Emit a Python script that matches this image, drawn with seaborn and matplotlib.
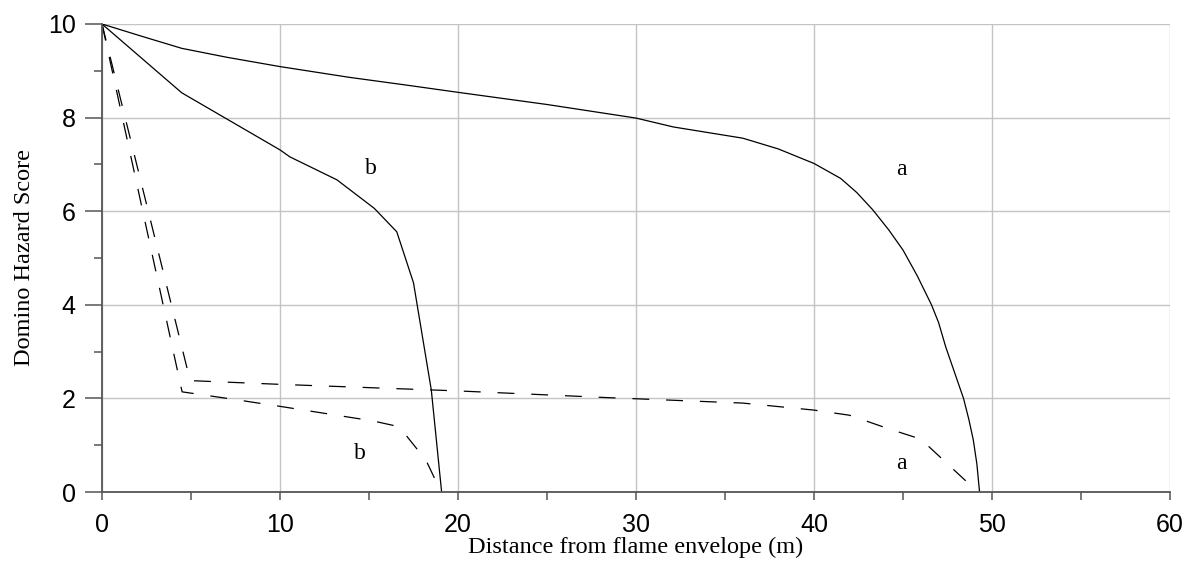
import matplotlib
matplotlib.use("Agg")
import matplotlib.pyplot as plt
import seaborn as sns
import numpy as np

# ---- data ----
a_solid_x = [0, 2.3, 4.48, 7.0, 10, 13.9, 17, 20, 25, 30, 32.1, 36, 38, 40, 41.5, 42.4, 43.3, 44.2, 45, 45.8, 46.6, 47.0,
             47.4, 47.9, 48.4, 48.7, 48.95, 49.15, 49.3]
a_solid_y = [10, 9.73, 9.48, 9.29, 9.09, 8.86, 8.70, 8.54, 8.28, 7.99, 7.80, 7.56, 7.33, 7.02, 6.70, 6.40, 6.03, 5.60, 5.17,
             4.62, 4.0, 3.62, 3.1, 2.55, 2.0, 1.55, 1.11, 0.6, 0]

b_solid_x = [0, 4.48, 10, 10.56, 13.2, 15.3, 16.56, 17.5, 18.5, 19.08]
b_solid_y = [10, 8.53, 7.31, 7.16, 6.67, 6.06, 5.56, 4.47, 2.18, 0]

a_dash_x = [0, 4.95, 10, 20, 28.2, 36, 40, 42, 44.2, 46, 49.2]
a_dash_y = [10, 2.38, 2.30, 2.16, 2.02, 1.90, 1.75, 1.64, 1.35, 1.13, 0]

b_dash_x = [0, 4.5, 7.4, 10, 15.2, 16.4, 17.0, 18.2, 19.05]
b_dash_y = [10, 2.14, 1.98, 1.83, 1.52, 1.42, 1.25, 0.68, 0]

labels = ["b", "a", "b", "a"]
label_x = [15.1, 44.9, 14.5, 44.9]
label_y = [6.92, 6.9, 0.83, 0.61]

x_ticks = [0, 10, 20, 30, 40, 50, 60]
y_ticks = [0, 2, 4, 6, 8, 10]

sns.set_theme(style="white")
plt.rcParams['font.family'] = ['Liberation Sans', 'DejaVu Sans']

fig = plt.figure(figsize=(11.94, 5.63), dpi=100)
ax = fig.add_axes([102/1194, 1 - 492/563, (1170-102)/1194, (492-24)/563])

lw = 0.9
dash = (0, (13.5, 13.5))
sns.lineplot(x=a_solid_x, y=a_solid_y, ax=ax, color="black", lw=lw, estimator=None, sort=False)
sns.lineplot(x=b_solid_x, y=b_solid_y, ax=ax, color="black", lw=lw, estimator=None, sort=False)
sns.lineplot(x=a_dash_x, y=a_dash_y, ax=ax, color="black", lw=lw, estimator=None, sort=False, linestyle=dash)
sns.lineplot(x=b_dash_x, y=b_dash_y, ax=ax, color="black", lw=lw, estimator=None, sort=False, linestyle=dash)

for t, x, y in zip(labels, label_x, label_y):
    ax.text(x, y, t, fontsize=17, family="Liberation Serif", ha="center", va="center", color="black")

ax.set_xlim(0, 60)
ax.set_ylim(0, 10)
ax.set_xticks(x_ticks)
ax.set_yticks(y_ticks)
ax.set_xticks(np.arange(5, 60, 10), minor=True)
ax.set_yticks(np.arange(1, 10, 2), minor=True)
ax.grid(True, which="major", color="#c4c4c4", lw=1.0)
ax.set_axisbelow(True)

for s in ["top", "right"]:
    ax.spines[s].set_visible(False)
for s in ["left", "bottom"]:
    ax.spines[s].set_color("#555555")
    ax.spines[s].set_linewidth(1.3)

ax.tick_params(axis="y", which="major", direction="out", length=12, width=1.1, color="#555555",
               labelsize=18, pad=7, left=True)
ax.tick_params(axis="y", which="minor", direction="out", length=6, width=1.1, color="#555555", left=True)
ax.tick_params(axis="x", which="both", direction="out", length=6, width=1.1, color="#555555",
               labelsize=18, pad=9, bottom=True)
for lab in ax.get_xticklabels() + ax.get_yticklabels():
    lab.set_color("black")

ax.set_xlabel("Distance from flame envelope (m)", fontsize=17.5, family="Liberation Serif", labelpad=0, color="black")
ax.set_ylabel("Domino Hazard Score", fontsize=17.5, family="Liberation Serif", labelpad=9, color="black")

fig.savefig("out.png", dpi=100)
